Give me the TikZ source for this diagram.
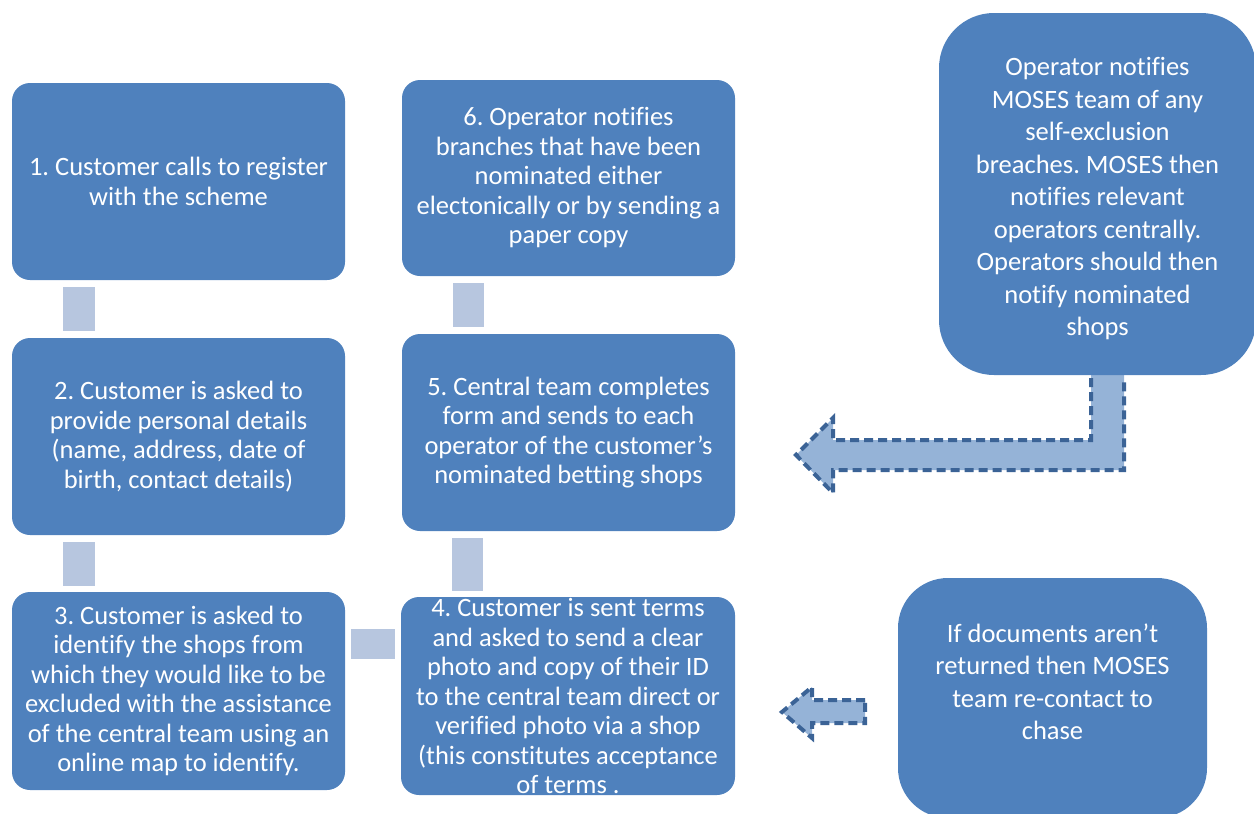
\documentclass[tikz,border=0pt]{standalone}
\usepackage{fontspec}
\setmainfont{Carlito}[Ligatures={NoCommon}]
\frenchspacing
\usetikzlibrary{calc}
\definecolor{boxblue}{HTML}{4F81BD}
\definecolor{connblue}{HTML}{B7C6DF}
\definecolor{arrfill}{HTML}{95B3D7}
\definecolor{arrline}{HTML}{3B6396}
\tikzset{
  box/.style={draw=none, fill=boxblue, rounded corners=18pt, text=white, align=center, inner sep=0pt,
    font=\fontsize{26.5}{29.5}\selectfont},
  bigbox/.style={box, rounded corners=55pt, font=\fontsize{26.5}{32.5}\selectfont},
  conn/.style={fill=connblue},
  arrbody/.style={fill=arrfill},
  arredge/.style={draw=arrline, line width=4pt, dash pattern=on 9pt off 5pt, line join=miter}
}
\begin{document}
\begin{tikzpicture}[x=1pt,y=-1pt]
\useasboundingbox (0,0) rectangle (1254,814);
\clip (0,0) rectangle (1254,814);
% arrows first (behind boxes)
\fill[arrbody] (1091,372) -- (1091,440) -- (833,440) -- (833,418) -- (796,455) -- (833,493) -- (833,470) -- (1124,470) -- (1124,372) -- cycle;
\draw[arredge] (1091,378) -- (1091,440) -- (833,440) -- (833,418) -- (796,455) -- (833,493) -- (833,470) -- (1124,470) -- (1124,378);
\fill[arrbody] (865,700) -- (812,700) -- (812,687) -- (782,712) -- (812,738) -- (812,723) -- (865,723) -- cycle;
\draw[arredge] (865,700) -- (812,700) -- (812,687) -- (782,712) -- (812,738) -- (812,723) -- (865,723) -- cycle;

\node[box, minimum width=333pt, minimum height=197pt] (b1) at (178.5,181.5) {1. Customer calls to register\\with the scheme};
\node[box, minimum width=333pt, minimum height=197pt] (b2) at (178.5,436.5) {2. Customer is asked to\\provide personal details\\(name, address, date of\\birth, contact details)};
\node[box, minimum width=333pt, minimum height=198pt] (b3) at (178.5,691) {3. Customer is asked to\\identify the shops from\\which they would like to be\\excluded with the assistance\\of the central team using an\\online map to identify.};
\node[box, minimum width=333pt, minimum height=196pt] (b6) at (568.5,178) {6. Operator notifies\\branches that have been\\nominated either\\electonically or by sending a\\paper copy};
\node[box, minimum width=333pt, minimum height=197pt] (b5) at (568.5,432.5) {5. Central team completes\\form and sends to each\\operator of the customer’s\\nominated betting shops};
\node[box, minimum width=334pt, minimum height=198pt] (b4) at (568,696) {4. Customer is sent terms\\and asked to send a clear\\photo and copy of their ID\\to the central team direct or\\verified photo via a shop\\(this constitutes acceptance\\of terms .};
\node[bigbox, minimum width=317pt, minimum height=362pt] (bTR) at (1097.5,194) {\mbox{}\\[-4.5pt]Operator notifies\\MOSES team of any\\self-exclusion\\breaches. MOSES then\\notifies relevant\\operators centrally.\\Operators should then\\notify nominated\\shops};
\node[bigbox, rounded corners=50pt, minimum width=309pt, minimum height=240pt] (bBR) at (1052.5,698) {If documents aren’t\\returned then MOSES\\team re-contact to\\chase\\ \mbox{}};

% connector blocks
\fill[conn] ($(b1.south)+(-115.5,7)$) rectangle ($(b2.north)+(-83.5,-7)$);
\fill[conn] ($(b2.south)+(-115.5,7)$) rectangle ($(b3.north)+(-83.5,-6)$);
\fill[conn] ($(b6.south)+(-115.5,7)$) rectangle ($(b5.north)+(-84.5,-7)$);
\fill[conn] ($(b5.south)+(-116.5,7)$) rectangle ($(b4.north)+(-85,-6)$);
\fill[conn] ($(b3.east)+(6,-62)$) rectangle ($(b4.west)+(-6,-37)$);
\end{tikzpicture}
\end{document}
